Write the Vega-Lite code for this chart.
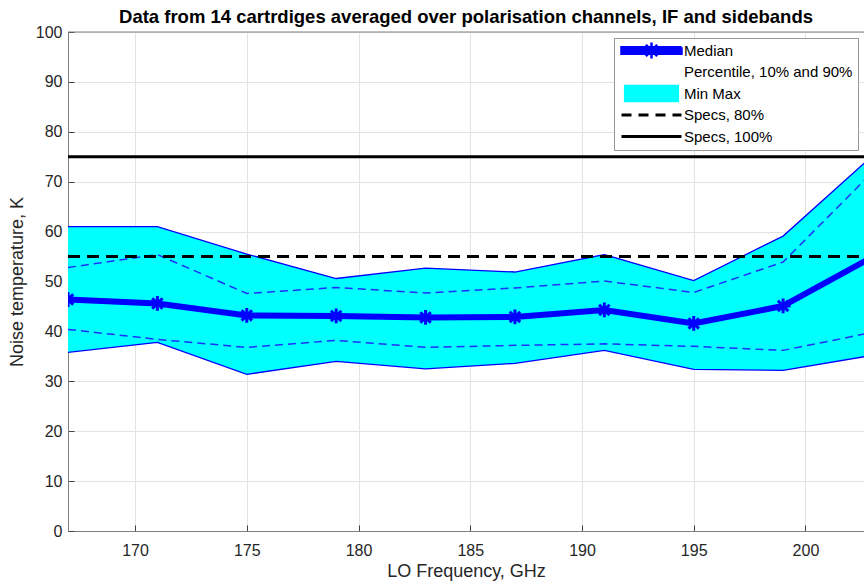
{
  "$schema": "https://vega.github.io/schema/vega-lite/v6.json",
  "width": 796,
  "height": 499,
  "autosize": {"type": "none"},
  "padding": {"left": 68, "top": 32, "right": 0, "bottom": 51},
  "background": "white",
  "title": {
    "text": "Data from 14 cartrdiges averaged over polarisation channels, IF and sidebands",
    "font": "Liberation Sans",
    "fontSize": 18.5,
    "fontWeight": "bold",
    "color": "#000000",
    "anchor": "middle",
    "offset": -2
  },
  "config": {
    "view": {"stroke": null},
    "axis": {
      "labelFont": "Liberation Sans",
      "titleFont": "Liberation Sans",
      "labelFontSize": 16,
      "titleFontSize": 18,
      "titleFontWeight": "normal",
      "labelColor": "#262626",
      "titleColor": "#262626",
      "domainColor": "#808080",
      "tickColor": "#404040",
      "gridColor": "#e3e3e3",
      "gridWidth": 1
    }
  },
  "datasets": {
    "stats": [
      {"f": 167, "min": 35.8, "p10": 40.4, "med": 46.4, "p90": 52.8, "max": 61.0},
      {"f": 171, "min": 37.8, "p10": 38.4, "med": 45.6, "p90": 55.4, "max": 61.0},
      {"f": 175, "min": 31.4, "p10": 36.8, "med": 43.2, "p90": 47.6, "max": 55.5},
      {"f": 179, "min": 34.0, "p10": 38.2, "med": 43.1, "p90": 48.8, "max": 50.6},
      {"f": 183, "min": 32.5, "p10": 36.8, "med": 42.8, "p90": 47.7, "max": 52.7},
      {"f": 187, "min": 33.6, "p10": 37.2, "med": 42.9, "p90": 48.7, "max": 51.9},
      {"f": 191, "min": 36.2, "p10": 37.5, "med": 44.3, "p90": 50.1, "max": 55.4},
      {"f": 195, "min": 32.4, "p10": 37.0, "med": 41.6, "p90": 47.8, "max": 50.2},
      {"f": 199, "min": 32.2, "p10": 36.2, "med": 45.1, "p90": 53.9, "max": 59.1},
      {"f": 203, "min": 35.2, "p10": 39.8, "med": 54.9, "p90": 71.9, "max": 75.2}
    ],
    "specs": [
      {"series": "Specs, 80%", "v": 55},
      {"series": "Specs, 100%", "v": 75}
    ]
  },
  "encoding": {
    "x": {
      "field": "f",
      "type": "quantitative",
      "scale": {"domain": [167, 202.62], "nice": false, "zero": false},
      "axis": {
        "title": "LO Frequency, GHz",
        "values": [170, 175, 180, 185, 190, 195, 200],
        "tickSize": -6,
        "labelPadding": 17,
        "titlePadding": 4,
        "grid": true
      }
    }
  },
  "layer": [
    {
      "data": {"name": "stats"},
      "mark": {"type": "area", "color": "#00ffff", "opacity": 1, "clip": true},
      "encoding": {
        "y": {
          "field": "min",
          "type": "quantitative",
          "scale": {"domain": [0, 100], "nice": false},
          "axis": {
            "title": "Noise temperature, K",
            "values": [0, 10, 20, 30, 40, 50, 60, 70, 80, 90, 100],
            "tickSize": -6,
            "labelPadding": 12,
            "titlePadding": 9,
            "grid": true
          }
        },
        "y2": {"field": "max"}
      }
    },
    {
      "data": {"name": "stats"},
      "mark": {"type": "line", "color": "#0000ff", "strokeWidth": 1.3, "clip": true},
      "encoding": {"y": {"field": "min", "type": "quantitative"}}
    },
    {
      "data": {"name": "stats"},
      "mark": {"type": "line", "color": "#0000ff", "strokeWidth": 1.3, "clip": true},
      "encoding": {"y": {"field": "max", "type": "quantitative"}}
    },
    {
      "data": {"name": "stats"},
      "mark": {"type": "line", "color": "#1f2fff", "strokeWidth": 1.5, "strokeDash": [8, 5], "clip": true},
      "encoding": {"y": {"field": "p10", "type": "quantitative"}}
    },
    {
      "data": {"name": "stats"},
      "mark": {"type": "line", "color": "#1f2fff", "strokeWidth": 1.5, "strokeDash": [8, 5], "clip": true},
      "encoding": {"y": {"field": "p90", "type": "quantitative"}}
    },
    {
      "data": {"name": "specs"},
      "mark": {"type": "rule", "strokeWidth": 3, "clip": true},
      "encoding": {
        "x": {"value": 0},
        "x2": {"value": 796},
        "y": {"field": "v", "type": "quantitative"},
        "color": {
          "field": "series",
          "type": "nominal",
          "scale": {
            "domain": ["Median", "Percentile, 10% and 90%", "Min Max", "Specs, 80%", "Specs, 100%"],
            "range": ["#0000ff", "#ffffff", "#00ffff", "#000000", "#000000"]
          },
          "legend": {
            "title": null,
            "orient": "top-right",
            "offset": 6,
            "symbolType": "stroke",
            "symbolSize": 3600,
            "symbolStrokeWidth": 3,
            "symbolOffset": 25,
            "labelFont": "Liberation Sans",
            "labelFontSize": 15,
            "labelColor": "#000000",
            "labelOffset": 25,
            "labelLimit": 400,
            "gridAlign": "all",
            "rowPadding": -5.5,
            "padding": 5,
            "fillColor": "#ffffff",
            "strokeColor": "#999999",
            "cornerRadius": 0,
            "encode": {
              "symbols": {
                "update": {
                  "shape": {"signal": "datum.value === 'Min Max' ? 'M-0.87,-0.24H0.87V0.24H-0.87Z' : datum.value === 'Median' ? 'M-1,-0.11H1V0.11H-1Z M-0.27,0H0.27 M0,-0.27V0.27 M-0.19,-0.19L0.19,0.19 M-0.19,0.19L0.19,-0.19' : 'stroke'"},
                  "fill": {"signal": "datum.value === 'Min Max' ? '#00ffff' : datum.value === 'Median' ? '#0000ff' : 'transparent'"},
                  "stroke": {"signal": "datum.value === 'Min Max' ? 'transparent' : datum.value === 'Median' ? '#0000ff' : datum.value === 'Percentile, 10% and 90%' ? 'transparent' : '#000000'"},
                  "strokeWidth": {"signal": "datum.value === 'Median' ? 2.5 : 3"},
                  "strokeDash": {"signal": "datum.value === 'Specs, 80%' ? [10, 7] : [1, 0]"},
                  "opacity": {"value": 1}
                }
              }
            }
          }
        },
        "strokeDash": {
          "condition": {"test": "datum.series === 'Specs, 80%'", "value": [12, 7]},
          "value": [1, 0]
        }
      }
    },
    {
      "data": {"name": "stats"},
      "mark": {"type": "line", "color": "#0000ff", "strokeWidth": 6, "clip": true},
      "encoding": {"y": {"field": "med", "type": "quantitative"}}
    },
    {
      "data": {"name": "stats"},
      "mark": {
        "type": "point",
        "shape": "M-1,0H1M0,-1V1M-0.7,-0.7L0.7,0.7M-0.7,0.7L0.7,-0.7",
        "filled": false,
        "color": "#0000ff",
        "strokeWidth": 3,
        "size": 220,
        "opacity": 1,
        "clip": true
      },
      "encoding": {"y": {"field": "med", "type": "quantitative"}}
    },
    {
      "data": {"values": [{}]},
      "mark": {"type": "rule", "color": "#808080", "strokeWidth": 1},
      "encoding": {"x": {"value": 0}, "x2": {"value": 796}, "y": {"value": 0}}
    }
  ]
}
